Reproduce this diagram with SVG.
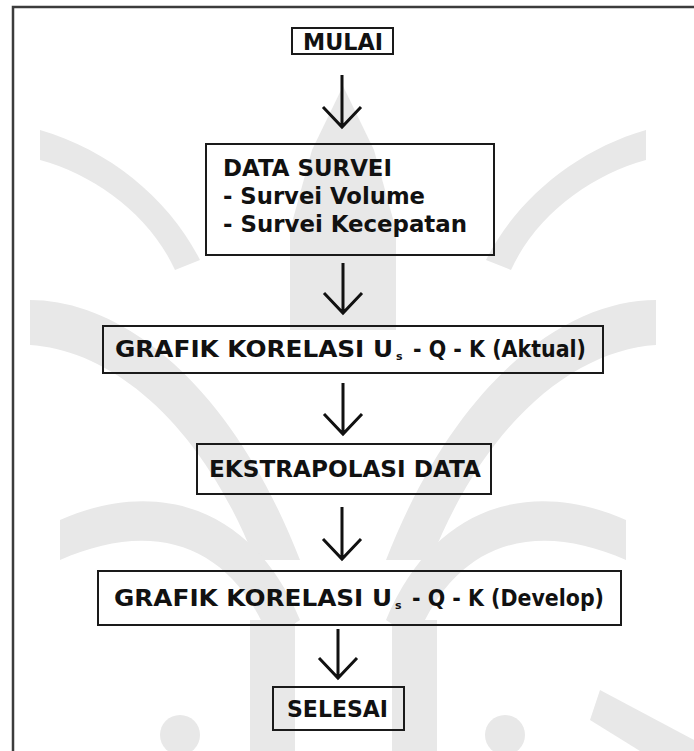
<svg xmlns="http://www.w3.org/2000/svg" width="694" height="751" viewBox="0 0 694 751">
  <style>
    .box { fill: none; stroke: #1a1a1a; stroke-width: 2; }
    .lbl { font-family: "DejaVu Sans", Verdana, sans-serif; font-weight: bold; font-size: 22.5px; fill: #111; }
    .sub { font-size: 11px; }
    .conn { fill: none; stroke: #111; stroke-width: 3; stroke-linejoin: miter; }
    .wm { fill: #e8e8e8; }
  </style>
  <rect width="694" height="751" fill="#fff"/>

  <!-- faint emblem in the background -->
  <g id="watermark" class="wm">
    <path d="M343,86 L374,150 L396,230 L396,330 L290,330 L290,230 L312,150 Z"/>
    <path d="M30,300 C120,300 230,380 300,560 L255,560 C200,420 110,350 30,345 Z"/>
    <path d="M656,300 C566,300 456,380 386,560 L431,560 C486,420 576,350 656,345 Z"/>
    <path d="M40,130 C110,150 170,200 200,260 L175,270 C150,215 95,175 40,160 Z"/>
    <path d="M646,130 C576,150 516,200 486,260 L511,270 C536,215 591,175 646,160 Z"/>
    <path d="M60,520 C150,480 250,500 300,620 L270,640 C230,540 150,520 60,560 Z"/>
    <path d="M626,520 C536,480 436,500 386,620 L416,640 C456,540 536,520 626,560 Z"/>
    <rect x="250" y="620" width="45" height="131"/>
    <rect x="392" y="620" width="45" height="131"/>
    <circle cx="180" cy="735" r="20"/>
    <circle cx="505" cy="735" r="20"/>
    <path d="M600,690 L694,740 L694,751 L640,751 L590,720 Z"/>
  </g>

  <!-- page frame -->
  <path d="M13,751 V7 H694" fill="none" stroke="#3c3c3c" stroke-width="2.5"/>

  <g id="connectors">
    <path class="conn" d="M342,75 V127 M323,107 L342,127 L361,107"/>
    <path class="conn" d="M343,263 V313 M324,293 L343,313 L362,293"/>
    <path class="conn" d="M343,383 V434 M324,414 L343,434 L362,414"/>
    <path class="conn" d="M342,507 V559 M323,539 L342,559 L361,539"/>
    <path class="conn" d="M338,629 V678 M319,658 L338,678 L357,658"/>
  </g>

  <g id="mulai">
    <rect class="box" x="292" y="28" width="101" height="26"/>
    <text class="lbl" x="303" y="49.5" textLength="80" lengthAdjust="spacingAndGlyphs">MULAI</text>
  </g>

  <g id="data-survei">
    <rect class="box" x="206" y="144" width="288" height="111"/>
    <text class="lbl" x="223" y="176" textLength="169" lengthAdjust="spacingAndGlyphs">DATA SURVEI</text>
    <text class="lbl" x="223" y="204" textLength="202" lengthAdjust="spacingAndGlyphs">- Survei Volume</text>
    <text class="lbl" x="223" y="232" textLength="244" lengthAdjust="spacingAndGlyphs">- Survei Kecepatan</text>
  </g>

  <g id="grafik-aktual">
    <rect class="box" x="103" y="326" width="500" height="47"/>
    <text class="lbl" x="115" y="357" textLength="278" lengthAdjust="spacingAndGlyphs">GRAFIK KORELASI U</text>
    <text class="lbl sub" x="396" y="360">s</text>
    <text class="lbl" x="413" y="357" textLength="173" lengthAdjust="spacingAndGlyphs">- Q - K (Aktual)</text>
  </g>

  <g id="ekstrapolasi">
    <rect class="box" x="197" y="444" width="294" height="50"/>
    <text class="lbl" x="209" y="477" textLength="272" lengthAdjust="spacingAndGlyphs">EKSTRAPOLASI DATA</text>
  </g>

  <g id="grafik-develop">
    <rect class="box" x="98" y="571" width="523" height="54"/>
    <text class="lbl" x="114" y="606" textLength="278" lengthAdjust="spacingAndGlyphs">GRAFIK KORELASI U</text>
    <text class="lbl sub" x="395" y="609">s</text>
    <text class="lbl" x="412" y="606" textLength="192" lengthAdjust="spacingAndGlyphs">- Q - K (Develop)</text>
  </g>

  <g id="selesai">
    <rect class="box" x="273" y="687" width="131" height="43"/>
    <text class="lbl" x="287" y="717" textLength="101" lengthAdjust="spacingAndGlyphs">SELESAI</text>
  </g>
</svg>
